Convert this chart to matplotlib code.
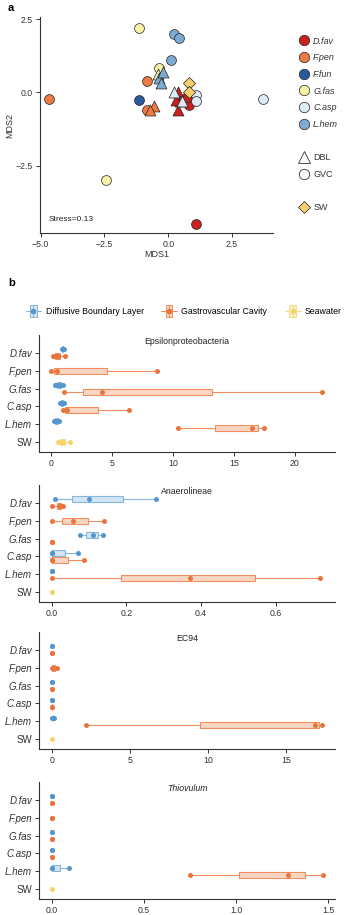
import matplotlib
matplotlib.use("Agg")
import matplotlib.pyplot as plt
import numpy as np
from matplotlib.lines import Line2D
from matplotlib.patches import Rectangle, Patch
from matplotlib.legend_handler import HandlerBase

plt.rcParams['font.family'] = ['Liberation Sans', 'DejaVu Sans']

# ---------------- Panel a data (NMDS) ----------------
nmds_species = ['D.fav', 'F.pen', 'F.fun', 'G.fas', 'C.asp', 'L.hem']
nmds_colors = ['#C8211E', '#EC7A42', '#2A5A9E', '#FAF2A8', '#DDECF4', '#7EAAD2']
sw_color = '#F6D06E'

gvc_x = {'D.fav': [1.09, 0.82, 0.75], 'F.pen': [-4.67, -0.83, -0.83], 'F.fun': [-1.13],
         'G.fas': [-1.14, -0.38, -2.45], 'C.asp': [3.70, 1.08, 1.08], 'L.hem': [0.21, 0.43, 0.10]}
gvc_y = {'D.fav': [-4.50, -0.43, -0.15], 'F.pen': [-0.22, 0.39, -0.60], 'F.fun': [-0.26],
         'G.fas': [2.20, 0.82, -3.00], 'C.asp': [-0.22, -0.09, -0.30], 'L.hem': [1.98, 1.86, 1.10]}
dbl_x = {'G.fas': [-0.42], 'C.asp': [0.24, 0.55], 'L.hem': [-0.35, -0.22, -0.29],
         'F.pen': [-0.57, -0.70], 'D.fav': [0.37, 0.45, 0.30, 0.38]}
dbl_y = {'G.fas': [0.62], 'C.asp': [0.02, -0.30], 'L.hem': [0.50, 0.70, 0.31],
         'F.pen': [-0.47, -0.60], 'D.fav': [0.02, -0.30, -0.26, -0.60]}
sw_x = [0.82, 0.82]
sw_y = [0.33, 0.02]

# ---------------- Panel b data (box plots) ----------------
categories = ['D.fav', 'F.pen', 'G.fas', 'C.asp', 'L.hem', 'SW']
taxa = ['Epsilonproteobacteria', 'Anaerolineae', 'EC94', 'Thiovulum']

dbl_vals = {
    'Epsilonproteobacteria': {'D.fav': [0.9, 1.0, 1.05], 'G.fas': [0.35, 0.55, 0.75, 1.0],
                              'C.asp': [0.75, 0.9, 1.1], 'L.hem': [0.25, 0.45, 0.7]},
    'Anaerolineae': {'D.fav': [0.01, 0.10, 0.28], 'G.fas': [0.076, 0.11, 0.138],
                     'C.asp': [0.0, 0.0, 0.07], 'L.hem': [0.0, 0.0, 0.0]},
    'EC94': {'D.fav': [0.0, 0.0], 'G.fas': [0.0, 0.0], 'C.asp': [0.0, 0.0],
             'L.hem': [0.03, 0.08, 0.12]},
    'Thiovulum': {'D.fav': [0.0, 0.0], 'G.fas': [0.0, 0.0], 'C.asp': [0.0, 0.0],
                  'L.hem': [0.0, 0.0, 0.092]},
}
gvc_vals = {
    'Epsilonproteobacteria': {'D.fav': [0.2, 0.45, 0.6, 1.2], 'F.pen': [0.05, 0.5, 8.7],
                              'G.fas': [1.1, 4.2, 22.2], 'C.asp': [1.0, 1.3, 6.4],
                              'L.hem': [10.4, 16.5, 17.5]},
    'Anaerolineae': {'D.fav': [0.0, 0.02, 0.025, 0.03], 'F.pen': [0.0, 0.057, 0.14],
                     'G.fas': [0.0, 0.0, 0.0], 'C.asp': [0.0, 0.0, 0.087],
                     'L.hem': [0.0, 0.37, 0.72]},
    'EC94': {'D.fav': [0.0, 0.0], 'F.pen': [0.0, 0.1, 0.35], 'G.fas': [0.0, 0.0],
             'C.asp': [0.0, 0.02], 'L.hem': [2.2, 16.8, 17.3]},
    'Thiovulum': {'D.fav': [0.0, 0.0], 'F.pen': [0.0, 0.0], 'G.fas': [0.0, 0.0],
                  'C.asp': [0.0, 0.0], 'L.hem': [0.75, 1.28, 1.47]},
}
sw_vals = {'Epsilonproteobacteria': [0.6, 0.85, 1.0, 1.55], 'Anaerolineae': [0.0, 0.0],
           'EC94': [0.0], 'Thiovulum': [0.0]}

x_ticks = {'Epsilonproteobacteria': [0, 5, 10, 15, 20], 'Anaerolineae': [0.0, 0.2, 0.4, 0.6],
           'EC94': [0, 5, 10, 15], 'Thiovulum': [0.0, 0.5, 1.0, 1.5]}
x_tick_labels = {'Epsilonproteobacteria': ['0', '5', '10', '15', '20'],
                 'Anaerolineae': ['0.0', '0.2', '0.4', '0.6'],
                 'EC94': ['0', '5', '10', '15'],
                 'Thiovulum': ['0.0', '0.5', '1.0', '1.5']}
x_lims = {'Epsilonproteobacteria': (-0.96, 23.3), 'Anaerolineae': (-0.034, 0.759),
          'EC94': (-0.81, 18.1), 'Thiovulum': (-0.069, 1.536)}

groups = ['Diffusive Boundary Layer', 'Gastrovascular Cavity', 'Seawater']
pt_colors = ['#5596CC', '#EA743D', '#F7D36C']
box_fill = ['#D3E5F2', '#FBD6C3', '#FCEFC6']
box_edge = ['#86B6DC', '#EF8E5E', '#F6DA8E']

# ---------------- figure ----------------
W, H = 355, 915
fig = plt.figure(figsize=(W / 100, H / 100), dpi=100)

def px_axes(l, t, r, b):
    return fig.add_axes([l / W, 1 - b / H, (r - l) / W, (b - t) / H])

axis_col = '#333333'

def style(ax):
    for s in ['top', 'right']:
        ax.spines[s].set_visible(False)
    for s in ['left', 'bottom']:
        ax.spines[s].set_color(axis_col)
        ax.spines[s].set_linewidth(0.8)
    ax.tick_params(colors=axis_col, width=0.7, length=3, labelsize=6.3, pad=2)

# Panel a
axa = px_axes(40, 17, 273, 233)
style(axa)
for sp, col in zip(nmds_species, nmds_colors):
    if sp in dbl_x:
        axa.scatter(dbl_x[sp], dbl_y[sp], marker='^', s=62, c=col, edgecolors='#222222',
                    linewidths=0.5, zorder=3)
for sp, col in zip(nmds_species, nmds_colors):
    axa.scatter(gvc_x[sp], gvc_y[sp], marker='o', s=50, c=col, edgecolors='#222222',
                linewidths=0.5, zorder=2)
axa.scatter(sw_x, sw_y, marker='D', s=38, c=sw_color, edgecolors='#222222', linewidths=0.5, zorder=3)
axa.set_xlim(-5.02, 4.1)
axa.set_ylim(-4.8, 2.57)
axa.set_xticks([-5.0, -2.5, 0.0, 2.5])
axa.set_xticklabels(['\u22125.0', '\u22122.5', '0.0', '2.5'])
axa.set_yticks([-2.5, 0.0, 2.5])
axa.set_yticklabels(['\u22122.5', '0.0', '2.5'])
axa.set_xlabel('MDS1', fontsize=6.5, color=axis_col, labelpad=1)
axa.set_ylabel('MDS2', fontsize=6.5, color=axis_col, labelpad=1)
axa.text(-4.67, -4.33, 'Stress=0.13', fontsize=6, color='#222222', va='center', ha='left')

handles = [Line2D([], [], marker='o', ls='', ms=7.5, mfc=c, mec='#222222', mew=0.5) for c in nmds_colors]
labels = list(nmds_species)
blank = Line2D([], [], ls='', marker='')
handles += [blank,
            Line2D([], [], marker='^', ls='', ms=8.5, mfc='white', mec='#333333', mew=0.6),
            Line2D([], [], marker='o', ls='', ms=7.5, mfc='white', mec='#333333', mew=0.6),
            blank,
            Line2D([], [], marker='D', ls='', ms=6.5, mfc=sw_color, mec='#222222', mew=0.5)]
labels += ['', 'DBL', 'GVC', '', 'SW']
leg = fig.legend(handles, labels, loc='upper left', bbox_to_anchor=(296 / W, 1 - 33 / H),
                 frameon=False, fontsize=6.5, handlelength=1.0, handletextpad=0.5,
                 labelspacing=0.85, borderaxespad=0)
for t in leg.get_texts()[:6]:
    t.set_style('italic')
for t in leg.get_texts():
    t.set_color('#333333')

fig.text(8 / W, 1 - 8 / H, 'a', fontsize=8, fontweight='bold', va='center')
fig.text(8 / W, 1 - 283 / H, 'b', fontsize=8, fontweight='bold', va='center')

# Panel b legend
class BoxIconHandler(HandlerBase):
    def create_artists(self, legend, orig, xd, yd, width, height, fontsize, trans):
        fc = orig.get_facecolor()
        ec = orig.get_edgecolor()
        cx = width / 2 - xd
        bw = width * 0.42
        bh = height * 1.05
        cy = height / 2 - yd
        rect = Rectangle((cx - bw / 2, cy - bh / 2), bw, bh, facecolor=fc, edgecolor=ec,
                         lw=0.7, transform=trans)
        wl = Line2D([-xd, width - xd], [cy, cy], color=ec, lw=0.7, transform=trans)
        ml = Line2D([cx, cx], [cy - bh / 2, cy + bh / 2], color=ec, lw=0.7, transform=trans)
        dot = Line2D([cx], [cy], marker='o', ms=3, mfc=orig._dotcol, mec=orig._dotcol,
                     ls='', transform=trans)
        return [wl, rect, ml, dot]

bhandles = []
for i in range(3):
    p = Patch(facecolor=box_fill[i], edgecolor=box_edge[i])
    p._dotcol = pt_colors[i]
    bhandles.append(p)
fig.legend(bhandles, groups, loc='center left', bbox_to_anchor=(22 / W, 1 - 311 / H),
           ncol=3, frameon=False, fontsize=6.3, handlelength=1.8, handleheight=1.5,
           handletextpad=0.5, columnspacing=2.0, borderaxespad=0,
           handler_map={Patch: BoxIconHandler()})

# Box plot panels
panel_tops = [335, 485, 632, 782]
panel_h = 117
offs = {0: -0.2, 1: 0.2}
for taxon, top in zip(taxa, panel_tops):
    ax = px_axes(39, top, 335, top + panel_h)
    style(ax)
    for ci, cat in enumerate(categories):
        entries = []
        if cat == 'SW':
            entries.append((2, sw_vals[taxon], ci))
        else:
            present = [g for g, d in ((0, dbl_vals[taxon]), (1, gvc_vals[taxon])) if cat in d]
            for g in present:
                vals = dbl_vals[taxon][cat] if g == 0 else gvc_vals[taxon][cat]
                pos = ci + (offs[g] if len(present) == 2 else 0.0)
                entries.append((g, vals, pos))
        for g, vals, pos in entries:
            if len(vals) > 1 and np.ptp(vals) > 0:
                ax.boxplot([vals], positions=[pos], orientation='horizontal', widths=0.34,
                           whis=(0, 100), showfliers=False, showcaps=False, patch_artist=True,
                           boxprops=dict(facecolor=box_fill[g], edgecolor=box_edge[g], lw=0.8),
                           whiskerprops=dict(color=box_edge[g], lw=0.8),
                           medianprops=dict(color=box_edge[g], lw=0.8),
                           manage_ticks=False, zorder=2)
            ax.plot(vals, [pos] * len(vals), 'o', ms=3.6, color=pt_colors[g], mew=0, zorder=3)
    ax.set_ylim(5.55, -1.0)
    ax.set_xlim(*x_lims[taxon])
    ax.set_yticks(range(len(categories)))
    ax.set_yticklabels(categories, fontsize=7)
    for lab in ax.get_yticklabels()[:-1]:
        lab.set_style('italic')
    ax.set_xticks(x_ticks[taxon])
    ax.set_xticklabels(x_tick_labels[taxon])
    ax.text(0.5, 0.985, taxon, transform=ax.transAxes, ha='center', va='top', fontsize=6.3,
            color='#222222', style='italic' if taxon == 'Thiovulum' else 'normal')

fig.savefig('out.png', dpi=100)
